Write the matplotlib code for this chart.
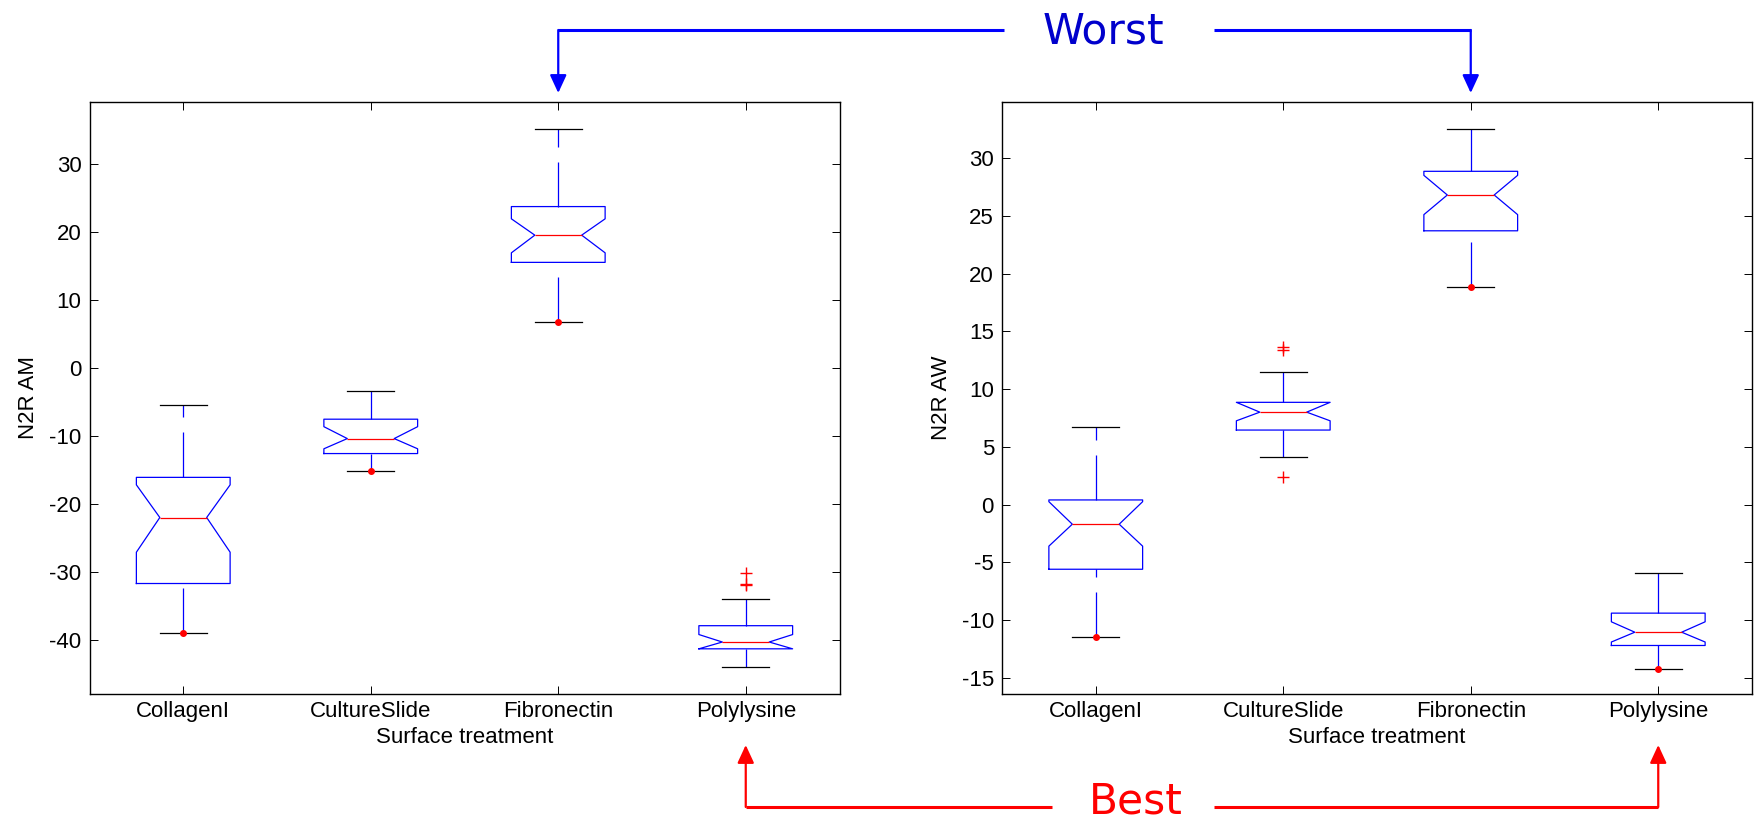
import matplotlib
matplotlib.use("Agg")
import matplotlib.pyplot as plt
from matplotlib.lines import Line2D
from matplotlib.transforms import blended_transform_factory

plt.rcParams["font.family"] = ["Liberation Sans", "DejaVu Sans"]
plt.rcParams["axes.unicode_minus"] = False

categories = ["CollagenI", "CultureSlide", "Fibronectin", "Polylysine"]

# left panel: N2R AM
am_whislo = [-39.0, -15.2, 6.8, -44.0]
am_q1 = [-31.7, -12.6, 15.5, -41.3]
am_cilo = [-27.1, -11.9, 16.9, -41.3]
am_med = [-22.0, -10.4, 19.5, -40.3]
am_cihi = [-17.2, -8.65, 21.9, -39.2]
am_q3 = [-16.1, -7.55, 23.7, -37.9]
am_whishi = [-5.4, -3.4, 35.1, -34.0]
am_fliers = [[], [], [], [-30.2, -31.7, -31.9]]
am_dots = [-39.0, -15.2, 6.8, None]

# right panel: N2R AW
aw_whislo = [-11.5, 4.1, 18.8, -14.2]
aw_q1 = [-5.6, 6.45, 23.7, -12.2]
aw_cilo = [-3.6, 7.25, 25.1, -11.9]
aw_med = [-1.7, 8.0, 26.8, -11.05]
aw_cihi = [0.25, 8.85, 28.5, -10.15]
aw_q3 = [0.4, 8.85, 28.85, -9.4]
aw_whishi = [6.7, 11.5, 32.5, -5.9]
aw_fliers = [[], [13.6, 13.4, 2.4], [], []]
aw_dots = [-11.5, None, 18.8, -14.2]

W, H, DPI = 1755, 823, 100


def fx(x_px):
    return x_px / W


def fy(y_px):
    return 1 - y_px / H


def make_stats(whislo, q1, cilo, med, cihi, q3, whishi, fliers):
    stats = []
    for i, name in enumerate(categories):
        stats.append(dict(label=name, whislo=whislo[i], q1=q1[i], cilo=cilo[i],
                          med=med[i], cihi=cihi[i], q3=q3[i], whishi=whishi[i],
                          fliers=fliers[i]))
    return stats


def draw_panel(ax, stats, dots, ylabel, ylim, yticks):
    pos = list(range(1, len(categories) + 1))
    art = ax.bxp(
        stats, positions=pos, widths=0.5, shownotches=True, showfliers=True,
        boxprops=dict(color="#0000FF", lw=0.9),
        medianprops=dict(color="#FF0000", lw=0.9),
        whiskerprops=dict(color="#0000FF", lw=0.9, linestyle=(0, (36, 12))),
        capprops=dict(color="black", lw=0.9),
        flierprops=dict(marker="+", markeredgecolor="#FF0000", markersize=9,
                        markeredgewidth=1.0, linestyle="none"),
    )
    # dash pattern starts at the lower end of each whisker
    for w in art["whiskers"][0::2]:
        w.set_ydata(w.get_ydata()[::-1])
    dx = [p for p, d in zip(pos, dots) if d is not None]
    dy = [d for d in dots if d is not None]
    ax.plot(dx, dy, "o", color="#FF0000", markersize=4, zorder=5)

    ax.set_xlim(0.5, 4.5)
    ax.set_ylim(*ylim)
    ax.set_yticks(yticks)
    ax.tick_params(direction="in", length=5.8, width=0.7, top=True, right=True,
                   labelsize=16)
    ax.tick_params(axis="y", pad=5.8)
    ax.tick_params(axis="x", pad=5)
    for s in ax.spines.values():
        s.set_linewidth(1.0)
    ax.set_xlabel("Surface treatment", fontsize=16, labelpad=3.5)
    ax.set_ylabel(ylabel, fontsize=16, labelpad=7)


fig = plt.figure(figsize=(W / DPI, H / DPI), dpi=DPI)
ax1 = fig.add_axes([fx(89.5), fy(694), fx(750), 592 / H])
ax2 = fig.add_axes([fx(1002), fy(694), fx(750), 592 / H])

draw_panel(ax1, make_stats(am_whislo, am_q1, am_cilo, am_med, am_cihi, am_q3, am_whishi, am_fliers),
           am_dots, "N2R AM", (-47.94, 39.07), range(-40, 31, 10))
draw_panel(ax2, make_stats(aw_whislo, aw_q1, aw_cilo, aw_med, aw_cihi, aw_q3, aw_whishi, aw_fliers),
           aw_dots, "N2R AW", (-16.4, 34.85), range(-15, 31, 5))


def data_to_figx(ax, x):
    return fig.transFigure.inverted().transform(ax.transData.transform((x, 0)))[0]


def bracket(target, y_line, y_tip, inner_left, inner_right, color):
    (axl, xl), (axr, xr) = target
    for ax, xd in target:
        tr = blended_transform_factory(ax.transData, fig.transFigure)
        ax.annotate("", xy=(xd, fy(y_tip)), xycoords=tr, xytext=(xd, fy(y_line)),
                    textcoords=tr, annotation_clip=False,
                    arrowprops=dict(arrowstyle="-|>,head_length=0.39,head_width=0.18",
                                    mutation_scale=28, color=color, lw=1.6,
                                    shrinkA=0, shrinkB=0))
    fig.add_artist(Line2D([data_to_figx(axl, xl), fx(inner_left)], [fy(y_line)] * 2,
                          color=color, lw=2.2, solid_capstyle="butt"))
    fig.add_artist(Line2D([fx(inner_right), data_to_figx(axr, xr)], [fy(y_line)] * 2,
                          color=color, lw=2.2, solid_capstyle="butt"))


fib = categories.index("Fibronectin") + 1
poly = categories.index("Polylysine") + 1
bracket([(ax1, fib), (ax2, fib)], 30, 93, 1004, 1214, "#0000FF")
bracket([(ax1, poly), (ax2, poly)], 807, 745, 1052, 1214, "#FF0000")

fig.text(fx(1103), fy(43), "Worst", ha="center", va="baseline", fontsize=30.5,
         color="#0000CC", family="DejaVu Sans")
fig.text(fx(1136), fy(822), "Best", ha="center", va="bottom", fontsize=30.5,
         color="#FF0000", family="DejaVu Sans")

fig.savefig("out.png", dpi=DPI)
